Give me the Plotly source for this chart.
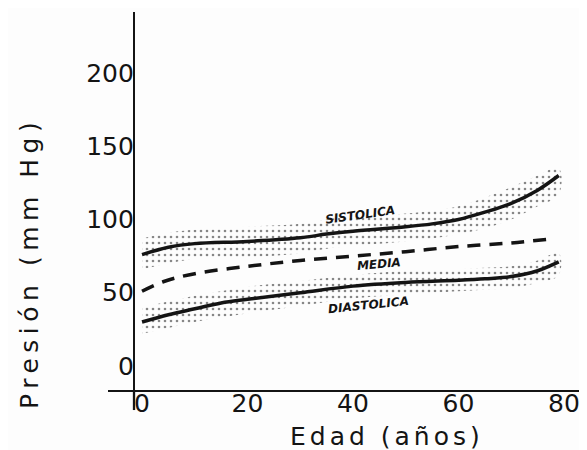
import plotly.graph_objects as go

# ---- data ----
sys_age = [0, 5, 10, 20, 30, 35, 40, 50, 55, 60, 65, 70, 75, 79]
sistolica = [76, 81, 83.5, 85, 87.5, 90, 92, 95, 97, 100, 105, 111, 120, 130]
sis_hi = [87, 91, 93, 95, 97, 100, 102, 104, 106, 109, 115, 122, 130, 135]
sis_lo = [66, 70, 73, 74, 77, 80, 82, 85, 87, 90, 94, 100, 109, 117]

dia_age = [0, 5, 10, 15, 20, 30, 40, 50, 60, 65, 70, 75, 79]
diastolica = [30, 35, 39, 43, 45.5, 50, 54.5, 57, 58.5, 59.5, 61, 65, 71]
dia_hi = [40, 44, 48, 51, 54, 58, 62, 65, 66, 67, 68, 72, 77]
dia_lo = [22, 26, 30, 33, 36, 41, 46, 49, 51, 52, 53, 57, 62]

med_age = [0, 4, 10, 20, 30, 40, 50, 60, 70, 77]
media = [51, 57.5, 63, 68, 72, 75, 78, 81.5, 84, 86.5]

x_ticks = [0, 20, 40, 60, 80]
y_ticks = [0, 50, 100, 150, 200]

INK = "#141414"
FONT = "DejaVu Sans"

fig = go.Figure()

def band(ages, hi, lo):
    fig.add_trace(go.Scatter(
        x=list(ages) + list(ages)[::-1],
        y=list(hi) + list(lo)[::-1],
        mode="lines", line=dict(width=0, shape="spline"),
        fill="toself", fillcolor="rgba(0,0,0,0)",
        fillpattern=dict(shape=".", fgcolor="#111111", bgcolor="rgba(0,0,0,0)",
                         size=6, solidity=0.15),
        hoverinfo="skip", showlegend=False))

band(sys_age, sis_hi, sis_lo)
band(dia_age, dia_hi, dia_lo)

fig.add_trace(go.Scatter(x=sys_age, y=sistolica, mode="lines",
                         line=dict(color=INK, width=3.5, shape="spline"),
                         name="Sistólica", showlegend=False))
fig.add_trace(go.Scatter(x=dia_age, y=diastolica, mode="lines",
                         line=dict(color=INK, width=3.5, shape="spline"),
                         name="Diastólica", showlegend=False))
fig.add_trace(go.Scatter(x=med_age, y=media, mode="lines",
                         line=dict(color=INK, width=3.5, shape="spline", dash="13px,9px"),
                         name="Media", showlegend=False))

lab_font = dict(family=FONT, size=12, color=INK, weight="bold", style="italic")
fig.add_annotation(x=41.3, y=103, text="SISTOLICA", showarrow=False,
                   textangle=-8, font=lab_font)
fig.add_annotation(x=45, y=69.5, text="MEDIA", showarrow=False,
                   textangle=-5, font=lab_font)
fig.add_annotation(x=43, y=41.5, text="DIASTOLICA", showarrow=False,
                   textangle=-6, font=lab_font)

# axis titles
fig.add_annotation(xref="paper", yref="paper", x=0.582, y=-0.122,
                   xanchor="center", yanchor="middle",
                   text='<span style="letter-spacing:4px">Edad (años)</span>',
                   showarrow=False, font=dict(family=FONT, size=25, color=INK))
fig.add_annotation(xref="paper", yref="paper", x=-0.163, y=0.336, textangle=-90,
                   xanchor="center", yanchor="middle",
                   text='<span style="letter-spacing:5.5px">Presión (mm Hg)</span>',
                   showarrow=False, font=dict(family=FONT, size=25, color=INK))

# small extension of the y axis below the x axis
fig.add_shape(type="line", xref="paper", yref="paper", x0=0.0543, x1=0.0543,
              y0=0, y1=-0.053, line=dict(color=INK, width=2.3))

# page body adds an 8px offset, so the figure is 8px smaller and shifted
fig.update_layout(
    width=579, height=442,
    margin=dict(l=100, r=0, t=4, b=60, autoexpand=False),
    paper_bgcolor="#fdfdfd", plot_bgcolor="#fdfdfd",
    showlegend=False,
    xaxis=dict(range=[-6.45, 84.36], tickvals=x_ticks, showgrid=False, zeroline=False,
               showline=True, linecolor=INK, linewidth=2.3, ticks="",
               automargin=False, ticklabelstandoff=-10,
               tickfont=dict(family=FONT, size=25, color=INK)),
    yaxis=dict(range=[-16.4, 241.6], tickvals=y_ticks, showgrid=False, zeroline=False,
               showline=True, linecolor=INK, linewidth=2.3, ticks="",
               anchor="free", position=0.0543, automargin=False,
               ticklabelstandoff=-6,
               tickfont=dict(family=FONT, size=25, color=INK)),
)

fig.write_html("out.html")
